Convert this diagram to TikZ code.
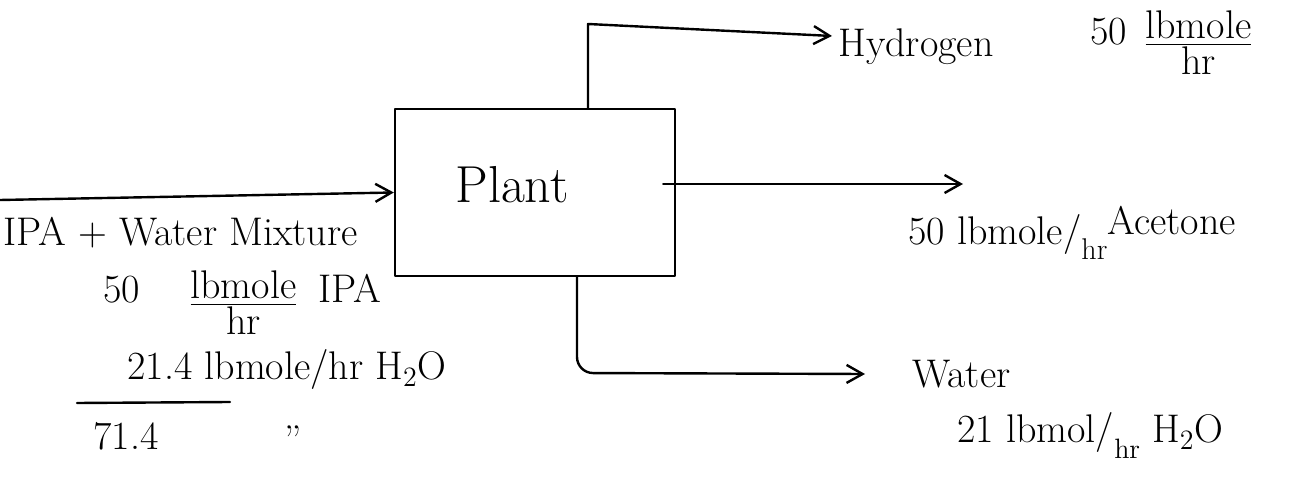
\documentclass[tikz,border=0pt]{standalone}
\usepackage{fontspec}
\usepackage{amsmath}
\usetikzlibrary{arrows.meta}
\tikzset{
  hand/.style={line width=1.2pt, line cap=round, line join=round},
  arr/.style={hand, -{Straight Barb[length=8pt,width=9pt,line width=1.2pt]}},
  lbl/.style={inner sep=0pt, font=\fontsize{20}{24}\selectfont},
}
\begin{document}
\begin{tikzpicture}[x=0.5pt,y=-0.5pt]
\useasboundingbox (0,0) rectangle (1310,485);
% plant box
\node[draw, hand, minimum width=140pt, minimum height=83.5pt, inner sep=0pt,
      font=\fontsize{26}{30}\selectfont] (plant) at (535,192.5)
      {\hspace*{-23pt}\raisebox{8pt}{Plant}};
% feed
\coordinate (feed) at (0,200);
\draw[arr] (feed) -- (plant.west);
% hydrogen
\coordinate (hcorner) at (588,24);
\coordinate (hend) at (832,36);
\draw[arr] (plant.north -| hcorner) -- (hcorner) -- (hend);
% acetone
\coordinate (aend) at (963,184);
\draw[arr] ([xshift=-6.5pt]plant.east |- aend) -- (aend);
% water
\coordinate (wcorner) at (577,373);
\coordinate (wend) at (865,374);
\draw[arr, rounded corners=8pt] (plant.south -| wcorner) -- (wcorner) -- (wend);
% feed labels
\node[lbl, anchor=base west] (mix) at (3,246) {IPA + Water Mixture};
\node[lbl, anchor=base west] (ipa) at (103,303)
  {50\hspace{24pt}\raisebox{-6pt}{$\frac{\mbox{lbmole}}{\mbox{hr}}$}\hspace{10pt}IPA};
\node[lbl, anchor=base west] (h2o) at (127,380) {21.4 lbmole/hr H\textsubscript{2}O};
\draw[hand] (77,403) -- (230,402);
\node[lbl, anchor=base west] (tot) at (93,450) {71.4};
\node[lbl] (ditto) at (293,440) {''};
% product labels
\node[lbl, anchor=base west] (hyd) at (838,57) {Hydrogen};
\node[lbl, anchor=base west] (hrate) at (1090,45)
  {50\hspace{8pt}\raisebox{-5pt}{$\frac{\mbox{lbmole}}{\mbox{hr}}$}};
\node[lbl, anchor=base west] (arate) at (908,245)
  {50 lbmole/\raisebox{-7.5pt}{\fontsize{15}{15}\selectfont hr}\raisebox{5pt}{Acetone}};
\node[lbl, anchor=base west] (wat) at (912,388) {Water};
\node[lbl, anchor=base west] (wrate) at (957,443)
  {21 lbmol/\raisebox{-8pt}{\fontsize{14}{14}\selectfont hr} H\textsubscript{2}O};
\end{tikzpicture}
\end{document}
